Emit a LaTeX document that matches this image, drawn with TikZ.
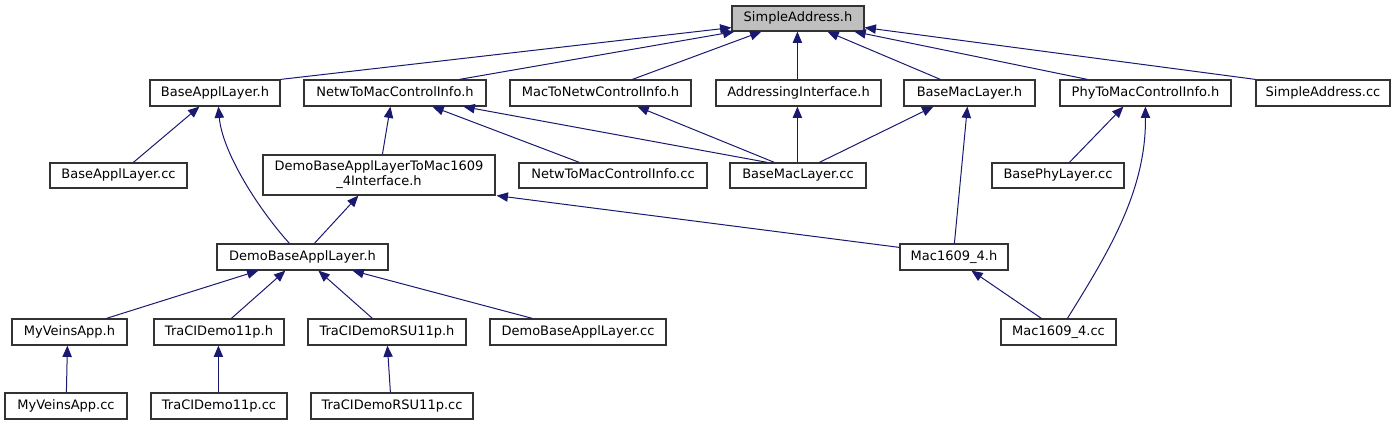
\documentclass[tikz,border=0pt]{standalone}
\usepackage{fontspec}
\setmainfont{DejaVu Sans}
\usetikzlibrary{arrows.meta,calc}
\definecolor{edgec}{HTML}{191970}
\definecolor{fillg}{HTML}{BFBFBF}
\tikzset{
  box/.style={draw=black!80, line width=0.9pt, fill=white, inner sep=0pt,
    font=\fontsize{9.75}{11.25}\selectfont, text height=7.3pt, text depth=2.1pt},
  box2/.style={draw=black!80, line width=0.9pt, fill=white, inner sep=0pt,
    font=\fontsize{9.75}{11.25}\selectfont, align=center},
  dep/.style={draw=edgec, line width=0.75pt, -{Triangle[length=8.5pt,width=7pt]}}
}
\newcommand\bx[7][]{\node[box,#1,minimum width={(#4-#3)*0.75pt},minimum height={(#6-#5)*0.75pt}] (#2) at ({(#3+#4)/2},{(#5+#6)/2}) {#7};}
\begin{document}
\begin{tikzpicture}[x=0.75pt,y=-0.75pt]
\useasboundingbox (0,0) rectangle (1396,425);
% row 1
\bx[fill=fillg]{SAh}{732}{864}{6}{31}{SimpleAddress.h}
% row 2
\bx{BALh}{150}{280}{80}{106}{BaseApplLayer.h}
\bx{NWTMh}{304}{486}{80}{106}{NetwToMacControlInfo.h}
\bx{MTNWh}{510}{691}{80}{106}{MacToNetwControlInfo.h}
\bx{AIh}{716}{881}{80}{106}{AddressingInterface.h}
\bx{BMLh}{904}{1035}{80}{106}{BaseMacLayer.h}
\bx{PTMh}{1060}{1231}{80}{106}{PhyToMacControlInfo.h}
\bx{SAcc}{1256}{1390}{80}{106}{SimpleAddress.cc}
% row 3
\bx{BALcc}{50}{187}{163}{188}{BaseApplLayer.cc}
\node[box2,minimum width={232*0.75pt},minimum height={40*0.75pt}] (DTMh) at (379,175) {DemoBaseApplLayerToMac1609\\\_4Interface.h};
\bx{NWTMcc}{519}{707}{163}{188}{NetwToMacControlInfo.cc}
\bx{BMLcc}{730}{866}{163}{188}{BaseMacLayer.cc}
\bx{BPLcc}{992}{1124}{163}{188}{BasePhyLayer.cc}
% row 4
\bx{DBALh}{217}{388}{244}{270}{DemoBaseApplLayer.h}
\bx{Mh}{900}{1008}{244}{270}{Mac1609\_4.h}
% row 5
\bx{MVAh}{12}{127}{319}{345}{MyVeinsApp.h}
\bx{TCDh}{154}{284}{319}{345}{TraCIDemo11p.h}
\bx{TCDRh}{308}{466}{319}{345}{TraCIDemoRSU11p.h}
\bx{DBALcc}{490}{666}{319}{345}{DemoBaseApplLayer.cc}
\bx{Mcc}{1001}{1116}{319}{345}{Mac1609\_4.cc}
% row 6
\bx{MVAcc}{5}{127}{393}{419}{MyVeinsApp.cc}
\bx{TCDcc}{151}{287}{393}{419}{TraCIDemo11p.cc}
\bx{TCDRcc}{311}{473}{393}{419}{TraCIDemoRSU11p.cc}
% edges to SimpleAddress.h
\draw[dep] (BALh.north east) -- ($(SAh.south west)+(0,-4)$);
\draw[dep] ($(NWTMh.north west)+(156,0)$) -- ($(SAh.south west)+(3,0)$);
\draw[dep] ($(MTNWh.north west)+(123,0)$) -- ($(SAh.south west)+(30,0)$);
\draw[dep] ($(AIh.north west)+(82,0)$) -- ($(SAh.south west)+(66,0)$);
\draw[dep] ($(BMLh.north west)+(37,0)$) -- ($(SAh.south west)+(96,0)$);
\draw[dep] ($(PTMh.north west)+(28,0)$) -- ($(SAh.south west)+(123,0)$);
\draw[dep] (SAcc.north west) -- ($(SAh.south east)+(0,-4)$);
% row 3 -> row 2
\draw[dep] ($(BALcc.north west)+(84,0)$) -- ($(BALh.south west)+(50,0)$);
\draw[dep] ($(DBALh.north west)+(73,0)$) .. controls (255,205) and (222,150) .. ($(BALh.south west)+(69,0)$);
\draw[dep] ($(DTMh.north west)+(120,0)$) -- ($(NWTMh.south west)+(87,0)$);
\draw[dep] ($(NWTMcc.north west)+(61,0)$) -- ($(NWTMh.south west)+(129,0)$);
\draw[dep] ($(BMLcc.north west)+(38,0)$) -- ($(NWTMh.south west)+(160,0)$);
\draw[dep] ($(BMLcc.north west)+(45,0)$) -- ($(MTNWh.south west)+(128,0)$);
\draw[dep] ($(BMLcc.north west)+(68,0)$) -- ($(AIh.south west)+(82,0)$);
\draw[dep] ($(BMLcc.north west)+(90,0)$) -- ($(BMLh.south west)+(30,0)$);
\draw[dep] ($(Mh.north west)+(55,0)$) -- ($(BMLh.south west)+(64,0)$);
\draw[dep] ($(BPLcc.north west)+(78,0)$) -- ($(PTMh.south west)+(64,0)$);
\draw[dep] ($(Mcc.north west)+(67,0)$) .. controls (1110,250) and (1146,190) .. ($(PTMh.south west)+(86,0)$);
% row 4 -> row 3
\draw[dep] ($(Mh.north west)+(0,4)$) -- ($(DTMh.south east)+(1,0)$);
\draw[dep] ($(DBALh.north west)+(98,0)$) -- ($(DTMh.south west)+(96,0)$);
% row 5 -> row 4
\draw[dep] ($(MVAh.north west)+(95,0)$) -- ($(DBALh.south west)+(42,0)$);
\draw[dep] ($(TCDh.north west)+(78,0)$) -- ($(DBALh.south west)+(69,0)$);
\draw[dep] ($(TCDRh.north west)+(65,0)$) -- ($(DBALh.south west)+(102,0)$);
\draw[dep] ($(DBALcc.north west)+(43,0)$) -- ($(DBALh.south west)+(136,0)$);
\draw[dep] ($(Mcc.north west)+(41,0)$) -- ($(Mh.south west)+(72,0)$);
% row 6 -> row 5
\draw[dep] ($(MVAcc.north west)+(62,0)$) -- ($(MVAh.south west)+(56,0)$);
\draw[dep] ($(TCDcc.north west)+(68,0)$) -- ($(TCDh.south west)+(65,0)$);
\draw[dep] ($(TCDRcc.north west)+(80,0)$) -- ($(TCDRh.south west)+(80,0)$);
\end{tikzpicture}
\end{document}
